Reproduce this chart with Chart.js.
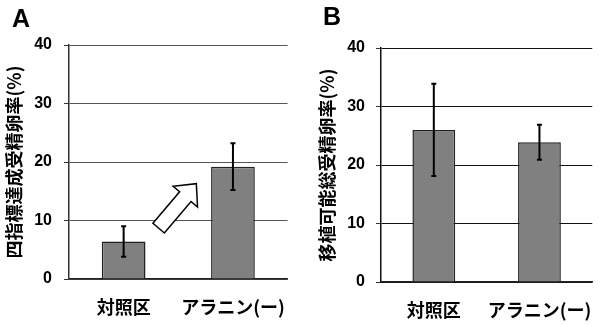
<!DOCTYPE html>
<html>
<head>
<meta charset="utf-8">
<script src="https://cdn.jsdelivr.net/npm/chart.js@4.4.0/dist/chart.umd.min.js"></script>
<style>
html, body { margin: 0; padding: 0; background: #fff; }
#wrap { position: relative; width: 610px; height: 325px; }
.panel { position: absolute; top: 0; width: 305px; height: 325px; }
</style>
</head>
<body>
<div id="wrap">
    <div class="panel" style="left:0"><canvas id="chartA" width="305" height="325"></canvas></div>
    <div class="panel" style="left:305px"><canvas id="chartB" width="305" height="325"></canvas></div>
</div>
<script>
// Datos
const categorias = ['対照区', 'アラニン(ー)'];
const valoresA = [6.4, 19.2];
const erroresA = [2.6, 4.0];
const valoresB = [26.0, 23.9];
const erroresB = [7.9, 3.0];
const ticksY = [0, 10, 20, 30, 40];
// flecha de A: [categoría, valor] de cola y punta
const flechaCola = [0.32, 8.7];
const flechaPunta = [0.665, 16.3];

const FUENTE_JP = "'Noto Sans CJK JP', 'Noto Sans', sans-serif";
const FUENTE_NUM = "'Liberation Sans', Arial, sans-serif";

// Barras de error (usa las escalas del gráfico)
const pluginErrores = {
    id: 'errores',
    afterDatasetsDraw(chart, args, opts) {
        const { ctx } = chart;
        const y = chart.scales.y;
        const meta = chart.getDatasetMeta(0);
        const vals = chart.data.datasets[0].data;
        ctx.save();
        ctx.strokeStyle = '#000';
        ctx.lineWidth = 2;
        meta.data.forEach((bar, i) => {
            const e = opts.errores[i];
            const top = y.getPixelForValue(vals[i] + e);
            const bot = y.getPixelForValue(vals[i] - e);
            ctx.beginPath();
            ctx.moveTo(bar.x, top); ctx.lineTo(bar.x, bot);
            ctx.moveTo(bar.x - 2.5, top); ctx.lineTo(bar.x + 2.5, top);
            ctx.moveTo(bar.x - 2.5, bot); ctx.lineTo(bar.x + 2.5, bot);
            ctx.stroke();
        });
        ctx.restore();
    }
};

// Letra del panel y flecha opcional
const pluginDecoracion = {
    id: 'decoracion',
    afterDraw(chart, args, opts) {
        const { ctx } = chart;
        ctx.save();
        ctx.fillStyle = '#000';
        ctx.font = 'bold 25px ' + FUENTE_NUM;
        ctx.textBaseline = 'alphabetic';
        ctx.fillText(opts.letra, opts.letraX, opts.letraY);

        if (opts.flecha) {
            const xs = chart.scales.x, ys = chart.scales.y;
            const x0 = xs.getPixelForValue(flechaCola[0]), y0 = ys.getPixelForValue(flechaCola[1]);
            const x1 = xs.getPixelForValue(flechaPunta[0]), y1 = ys.getPixelForValue(flechaPunta[1]);
            const ang = Math.atan2(y1 - y0, x1 - x0);
            const L = Math.hypot(x1 - x0, y1 - y0);
            const hw = 7.5, hh = 16, hl = 17;
            ctx.translate(x0, y0);
            ctx.rotate(ang);
            ctx.beginPath();
            ctx.moveTo(0, -hw);
            ctx.lineTo(L - hl, -hw);
            ctx.lineTo(L - hl, -hh);
            ctx.lineTo(L, 0);
            ctx.lineTo(L - hl, hh);
            ctx.lineTo(L - hl, hw);
            ctx.lineTo(0, hw);
            ctx.closePath();
            ctx.fillStyle = '#fff';
            ctx.fill();
            ctx.strokeStyle = '#000';
            ctx.lineWidth = 1.5;
            ctx.lineJoin = 'miter';
            ctx.stroke();
        }
        ctx.restore();
    }
};

function crearPanel(idCanvas, conf) {
    return new Chart(document.getElementById(idCanvas), {
        type: 'bar',
        data: {
            labels: categorias,
            datasets: [{
                data: conf.valores,
                backgroundColor: '#808080',
                borderColor: '#222',
                borderWidth: 1.5,
                categoryPercentage: 1,
                barPercentage: conf.anchoBarra
            }]
        },
        options: {
            responsive: false,
            animation: false,
            layout: { padding: { top: conf.arriba, right: conf.derecha, left: 0, bottom: 0 } },
            scales: {
                x: {
                    grid: { display: false, drawTicks: false },
                    border: { color: '#222', width: 1.5 },
                    ticks: { color: '#000', padding: 17, font: { family: FUENTE_JP, size: 18, weight: 'bold' } },
                    afterFit: s => { s.height = conf.altoX; }
                },
                y: {
                    min: 0, max: 40,
                    afterBuildTicks: s => { s.ticks = ticksY.map(v => ({ value: v })); },
                    grid: { color: conf.colorRejilla, lineWidth: 1, tickLength: 5, tickColor: '#333' },
                    border: { color: conf.colorEje, width: 1.5 },
                    ticks: { color: '#000', padding: conf.sepTicks, font: { family: FUENTE_NUM, size: 16, weight: 'bold' } },
                    title: {
                        display: true,
                        text: conf.tituloY,
                        color: '#000',
                        padding: { top: conf.sepTitulo, bottom: 0 },
                        font: { family: FUENTE_JP, size: 18, weight: 'bold' }
                    },
                    afterFit: s => { s.width = conf.anchoY; }
                }
            },
            plugins: {
                legend: { display: false },
                tooltip: { enabled: false },
                errores: { errores: conf.errores },
                decoracion: { letra: conf.letra, letraX: conf.letraX, letraY: conf.letraY, flecha: conf.flecha }
            }
        },
        plugins: [pluginErrores, pluginDecoracion]
    });
}

crearPanel('chartA', {
    valores: valoresA, errores: erroresA,
    tituloY: '四指標達成受精卵率(%)',
    letra: 'A', letraX: 12, letraY: 27, flecha: true,
    arriba: 45, derecha: 13, altoX: 46, anchoY: 69,
    sepTicks: 12, sepTitulo: 3, anchoBarra: 0.4,
    colorRejilla: '#555', colorEje: '#333'
});

crearPanel('chartB', {
    valores: valoresB, errores: erroresB,
    tituloY: '移植可能総受精卵率(%)',
    letra: 'B', letraX: 18, letraY: 25, flecha: false,
    arriba: 48, derecha: 7, altoX: 43, anchoY: 76,
    sepTicks: 11, sepTitulo: 11, anchoBarra: 0.405,
    colorRejilla: '#111', colorEje: '#111'
});
</script>
</body>
</html>
